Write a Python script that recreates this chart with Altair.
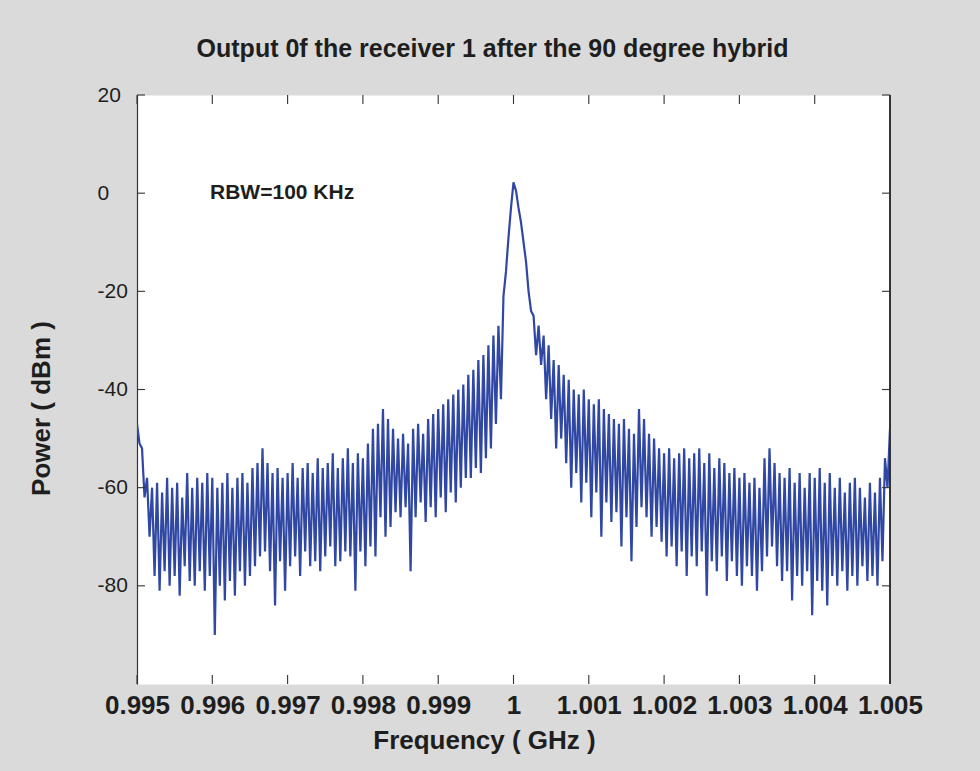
import altair as alt
import pandas as pd

# ---------------- data ----------------
F_START = 0.995   # GHz
F_STOP = 1.005    # GHz

# upper excursions of the spectrum trace (dBm), left to right
upper = [
    -47, -52, -58, -60, -59, -61, -58, -60, -59, -62,
    -57, -60, -58, -59, -57, -58, -60, -59, -57, -60,
    -58, -57, -59, -56, -55, -52, -55, -57, -56, -58,
    -57, -55, -58, -56, -55, -57, -54, -56, -55, -53,
    -56, -54, -52, -55, -53, -54, -51, -48, -47, -44,
    -46, -48, -50, -49, -51, -48, -47, -49, -46, -45,
    -44, -43, -42, -41, -40, -39, -37, -36, -34, -33,
    -31, -29, -27, -21, -9, 2.2, -3, -10, -20, -25,
    -27, -29, -31, -34, -35, -37, -38, -40, -41, -40,
    -42, -43, -42, -44, -45, -46, -47, -46, -48, -49,
    -44, -46, -49, -50, -52, -53, -52, -54, -53, -52,
    -54, -53, -52, -55, -53, -56, -54, -55, -57, -56,
    -58, -57, -59, -58, -60, -54, -52, -55, -57, -58,
    -56, -59, -57, -60, -57, -58, -56, -59, -57, -60,
    -58, -61, -59, -58, -60, -62, -59, -61, -58, -54,
    -48,
]

# lower excursions of the spectrum trace (dBm), between the upper ones
lower = [
    -51, -62, -70, -78, -81, -77, -80, -78, -82, -76,
    -79, -80, -77, -81, -78, -90, -80, -83, -79, -82,
    -77, -80, -78, -76, -74, -73, -77, -84, -75, -81,
    -76, -74, -78, -73, -76, -75, -77, -74, -72, -76,
    -75, -73, -74, -81, -73, -76, -72, -74, -66, -70,
    -68, -65, -66, -64, -77, -66, -63, -67, -64, -66,
    -62, -65, -61, -63, -60, -58, -58, -56, -57, -54,
    -52, -47, -42, -16, -3, 0.5, -6, -14, -24, -33,
    -35, -42, -46, -52, -50, -55, -60, -57, -63, -59,
    -66, -61, -70, -63, -67, -65, -72, -66, -75, -68,
    -64, -66, -70, -68, -71, -74, -72, -76, -73, -78,
    -74, -76, -73, -82, -75, -77, -74, -79, -75, -78,
    -80, -76, -78, -81, -77, -74, -72, -76, -79, -77,
    -83, -78, -80, -77, -86, -79, -81, -84, -78, -80,
    -77, -81, -78, -80, -76, -79, -78, -80, -75, -60,
]

x_ticks = [0.995, 0.996, 0.997, 0.998, 0.999, 1.0,
           1.001, 1.002, 1.003, 1.004, 1.005]
y_ticks = [20, 0, -20, -40, -60, -80]

title_text = "Output 0f the receiver 1 after the 90 degree hybrid"
note_text = "RBW=100 KHz"
note_freq = 0.99597
note_power = 0

# ---------------- tables ----------------
n_pts = len(upper) + len(lower)
step = (F_STOP - F_START) / (n_pts - 1)
rows = []
for k in range(n_pts):
    v = upper[k // 2] if k % 2 == 0 else lower[k // 2]
    rows.append({"f": F_START + k * step, "p": v})
trace = pd.DataFrame(rows)

xt = pd.DataFrame({"f": x_ticks})
yt = pd.DataFrame({"p": y_ticks})
note = pd.DataFrame({"f": [note_freq], "p": [note_power], "t": [note_text]})

W, H = 753, 589
FONT = "Liberation Sans"
DARK = "#1e1e1e"

xscale = alt.Scale(domain=[F_START, F_STOP], nice=False, zero=False)
yscale = alt.Scale(domain=[-100, 20], nice=False, zero=False)

x_axis = alt.Axis(
    values=x_ticks, format=".3~f", ticks=False, domain=False, grid=False,
    labelFontSize=26, labelFontWeight="bold", labelColor=DARK, labelFont=FONT,
    labelBaseline="top", labelPadding=8, labelFlush=False, labelOverlap=False,
    title="Frequency ( GHz )", titleFontSize=26, titleFontWeight="bold",
    titleColor=DARK, titleFont=FONT, titleX=347, titleY=56,
    titleAlign="center", titleBaseline="middle",
)
y_axis = alt.Axis(
    values=y_ticks, ticks=False, domain=True, domainColor="#333333",
    domainWidth=1.2, grid=False,
    labelExpr="datum.value < 0 ? '-' + abs(datum.value) : '' + datum.value",
    labelFontSize=21, labelColor=DARK, labelFont=FONT, labelAlign="left",
    labelBaseline="middle", labelPadding=40, labelOverlap=False,
    title="Power ( dBm )", titleFontSize=26, titleFontWeight="bold",
    titleColor=DARK, titleFont=FONT, titleX=-96, titleY=313,
    titleAngle=270, titleAlign="center", titleBaseline="middle",
)

line = alt.Chart(trace).mark_line(
    color="#3048a4", strokeWidth=2.2, clip=True
).encode(
    x=alt.X("f:Q", scale=xscale, axis=x_axis),
    y=alt.Y("p:Q", scale=yscale, axis=y_axis),
    order="f:Q",
)

tick_color = "#333333"
xt_bottom = alt.Chart(xt).mark_rule(color=tick_color, strokeWidth=1.1).encode(
    x=alt.X("f:Q", scale=xscale), y=alt.value(H), y2=alt.value(H - 9))
xt_top = alt.Chart(xt).mark_rule(color=tick_color, strokeWidth=1.1).encode(
    x=alt.X("f:Q", scale=xscale), y=alt.value(0), y2=alt.value(9))
yt_left = alt.Chart(yt).mark_rule(color=tick_color, strokeWidth=1.1).encode(
    y=alt.Y("p:Q", scale=yscale), x=alt.value(0), x2=alt.value(8))
yt_right = alt.Chart(yt).mark_rule(color=tick_color, strokeWidth=1.1).encode(
    y=alt.Y("p:Q", scale=yscale), x=alt.value(W), x2=alt.value(W - 8))
right_border = alt.Chart(xt).mark_rule(color=tick_color, strokeWidth=1.2).encode(
    x=alt.value(W), y=alt.value(0), y2=alt.value(H))

note_mark = alt.Chart(note).mark_text(
    align="left", baseline="middle", fontSize=21, fontWeight="bold",
    font=FONT, color=DARK
).encode(
    x=alt.X("f:Q", scale=xscale), y=alt.Y("p:Q", scale=yscale), text="t:N")

chart = alt.layer(
    line, xt_bottom, xt_top, yt_left, yt_right, right_border, note_mark
).properties(
    width=W, height=H,
    padding={"left": 137, "top": 95, "right": 90, "bottom": 87},
    autosize=alt.AutoSizeParams(type="none"),
    background="#dadada",
    title=alt.TitleParams(
        text=title_text, fontSize=25, fontWeight="bold", font=FONT,
        color=DARK, anchor="middle", frame="group", baseline="alphabetic",
        offset=2, dx=-21,
    ),
).configure_view(fill="white", stroke="transparent")

chart.save("out.html", embed_options={"renderer": "svg", "actions": False})
